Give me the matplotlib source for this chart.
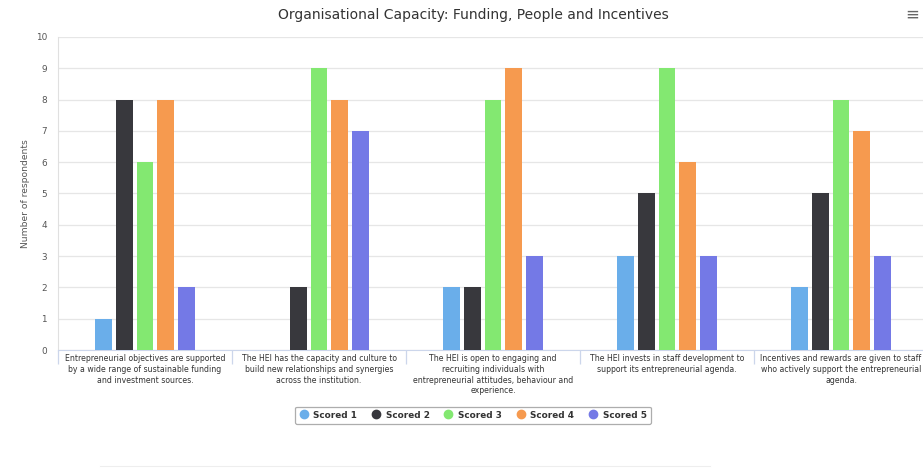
import numpy as np
import matplotlib.pyplot as plt
from matplotlib.lines import Line2D

# Survey results per statement
categories = [
    "Entrepreneurial objectives are supported\nby a wide range of sustainable funding\nand investment sources.",
    "The HEI has the capacity and culture to\nbuild new relationships and synergies\nacross the institution.",
    "The HEI is open to engaging and\nrecruiting individuals with\nentrepreneurial attitudes, behaviour and\nexperience.",
    "The HEI invests in staff development to\nsupport its entrepreneurial agenda.",
    "Incentives and rewards are given to staff\nwho actively support the entrepreneurial\nagenda.",
]
series_names = ["Scored 1", "Scored 2", "Scored 3", "Scored 4", "Scored 5"]
scored_1 = [1, 0, 2, 3, 2]
scored_2 = [8, 2, 2, 5, 5]
scored_3 = [6, 9, 8, 9, 8]
scored_4 = [8, 8, 9, 6, 7]
scored_5 = [2, 7, 3, 3, 3]
series_values = [scored_1, scored_2, scored_3, scored_4, scored_5]
colors = ["#6aaeea", "#38383d", "#83e871", "#f69a4f", "#7479e6"]

fig = plt.figure(figsize=(9.23, 4.69), dpi=100)
# plot area runs a little past the right edge of the figure
ax = fig.add_axes([58 / 923, 119 / 469, 870 / 923, 313 / 469])

x = np.arange(len(categories))
pitch, width = 0.1195, 0.0977
for k, (name, vals, c) in enumerate(zip(series_names, series_values, colors)):
    ax.bar(x + (k - 2) * pitch, vals, width=width, color=c, label=name, zorder=3)

ax.set_xlim(-0.5, len(categories) - 0.5)
ax.set_ylim(0, 10)
ax.set_yticks(range(0, 11))
ax.tick_params(axis="y", length=0, labelsize=6.4, labelcolor="#555555", pad=8)
ax.grid(axis="y", color="#e6e6e6", linewidth=0.9, zorder=0)

# category labels centred, tick marks on the boundaries
ax.set_xticks(x)
ax.set_xticklabels(categories, fontsize=5.6, color="#333333", linespacing=1.25)
ax.tick_params(axis="x", length=0, pad=3)
ax.set_xticks(np.arange(-0.5, len(categories)), minor=True)
ax.tick_params(axis="x", which="minor", length=10, color="#ccd6eb", width=0.9)

for side in ["top", "right"]:
    ax.spines[side].set_visible(False)
ax.spines["left"].set_color("#e0e0e0")
ax.spines["bottom"].set_color("#ccd6eb")

ax.set_ylabel("Number of respondents", fontsize=6.6, color="#555555", labelpad=4)

fig.text(473 / 923, 1 - 15 / 469, "Organisational Capacity: Funding, People and Incentives",
         ha="center", va="center", fontsize=10, color="#333333")
fig.text(912 / 923, 1 - 15 / 469, "\u2261", ha="center", va="center",
         fontsize=12, color="#666666")

handles = [Line2D([], [], marker="o", linestyle="none", markersize=6,
                  markerfacecolor=c, markeredgecolor=c) for c in colors]
leg = fig.legend(handles, series_names, loc="center", bbox_to_anchor=(473 / 923, 1 - 415 / 469),
                 ncol=5, fontsize=6.4, frameon=True, fancybox=True, handletextpad=0.6,
                 columnspacing=1.6, borderpad=0.45, handlelength=1.0)
leg.get_frame().set_edgecolor("#999999")
leg.get_frame().set_linewidth(0.9)
for t in leg.get_texts():
    t.set_fontweight("bold")
    t.set_color("#333333")

# faint separator near the bottom
fig.add_artist(Line2D([100 / 923, 710 / 923], [3 / 469, 3 / 469], color="#eeeeee", linewidth=0.8))

fig.savefig("out.png", dpi=100)
